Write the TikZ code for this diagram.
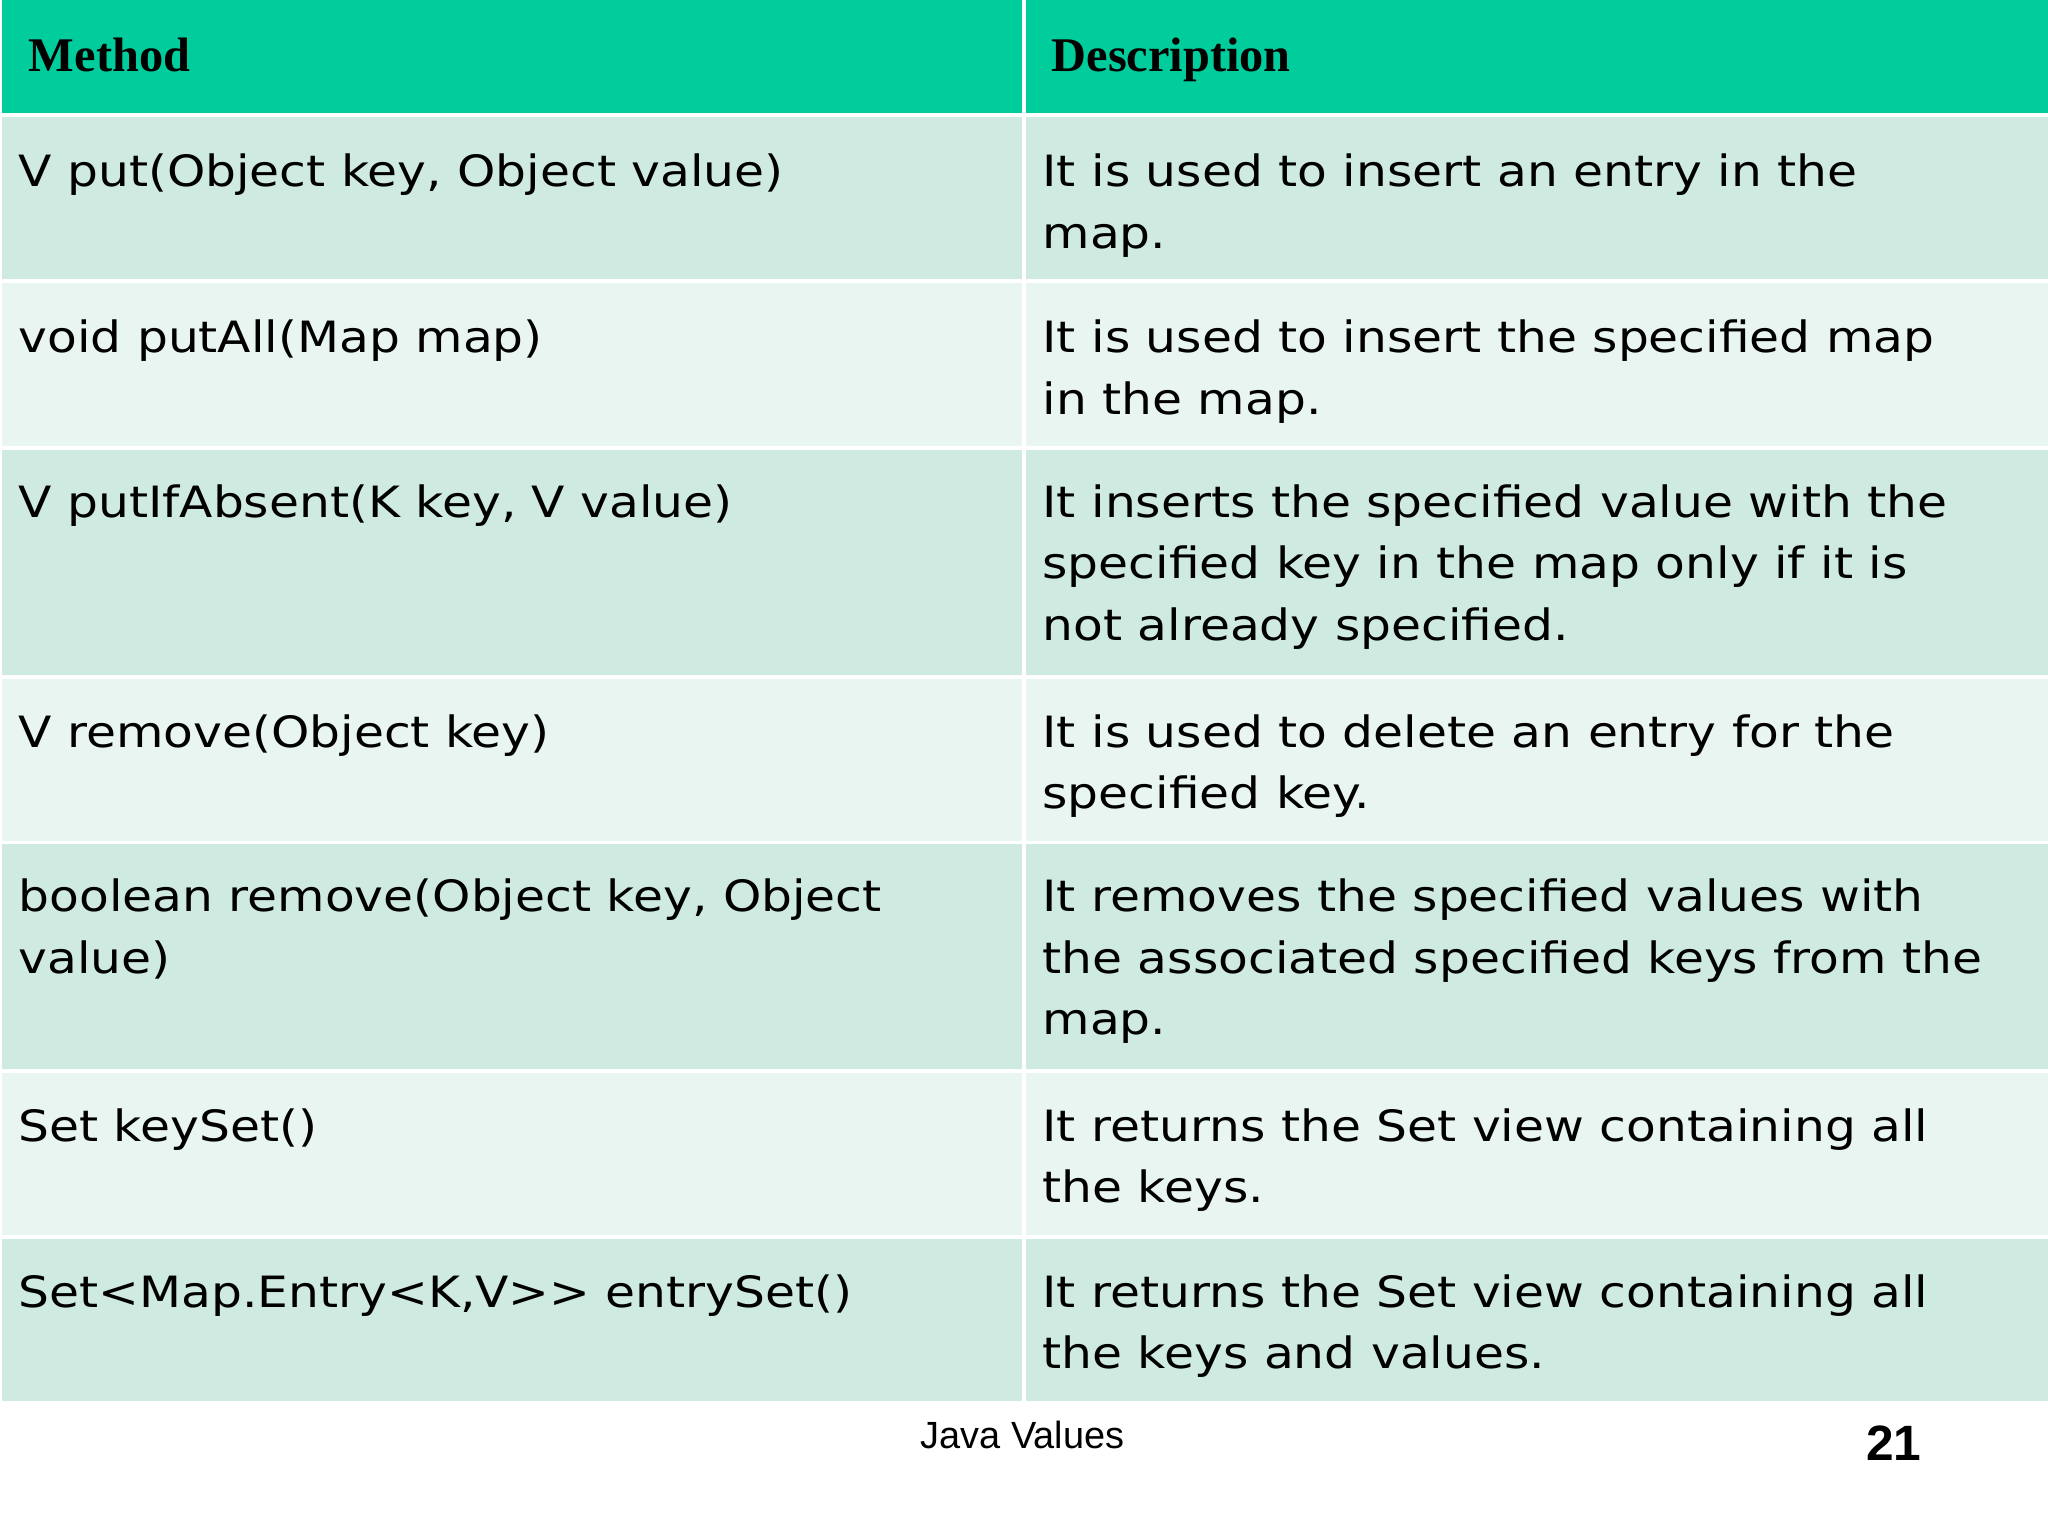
\documentclass[tikz,border=0pt]{standalone}
\usepackage{fontspec}
\setmainfont{DejaVu Sans}[FakeStretch=1.13]
\newfontfamily\hdfont{Liberation Serif}
\newfontfamily\ftfont{Liberation Sans}
\begin{document}
\begin{tikzpicture}[x=1pt,y=-1pt,
  cell/.style={anchor=base west,inner sep=0pt,align=left,font=\fontsize{33}{47}\selectfont},
  hd/.style={anchor=base west,inner sep=0pt,font=\hdfont\bfseries\fontsize{37}{40}\selectfont},
  sep/.style={white,line width=3pt}]
\useasboundingbox (0,0) rectangle (1568,1176);
\fill[white] (0,0) rectangle (1568,1176);
\definecolor{hdr}{HTML}{00CC9C}
\definecolor{rowa}{HTML}{CFEAE0}
\definecolor{rowb}{HTML}{E8F5F0}
\fill[hdr] (0,0) rectangle (1568,88);
\fill[rowa] (0,88) rectangle (1568,215);
\fill[rowb] (0,215) rectangle (1568,343);
\fill[rowa] (0,343) rectangle (1568,518);
\fill[rowb] (0,518) rectangle (1568,645);
\fill[rowa] (0,645) rectangle (1568,820);
\fill[rowb] (0,820) rectangle (1568,947);
\fill[rowa] (0,947) rectangle (1568,1073);
\foreach \y in {88,215,343,518,645,820,947} \draw[sep] (0,\y) -- (1568,\y);
\draw[sep] (784,0) -- (784,1073);
\draw[sep] (0,0) -- (0,1073);
\node[hd] (h1) at (22,55) {Method};
\node[hd] (h2) at (805,55) {Description};
\node[cell] (m1) at (14,143) {V put(Object key, Object value)};
\node[cell] (d1) at (798,190) {It is used to insert an entry in the\\map.};
\node[cell] (m2) at (14,270) {void putAll(Map map)};
\node[cell] (d2) at (798,317) {It is used to insert the specified map\\in the map.};
\node[cell] (m3) at (14,396) {V putIfAbsent(K key, V value)};
\node[cell] (d3) at (798,490) {It inserts the specified value with the\\specified key in the map only if it is\\not already specified.};
\node[cell] (m4) at (14,572) {V remove(Object key)};
\node[cell] (d4) at (798,619) {It is used to delete an entry for the\\specified key.};
\node[cell] (m5) at (14,745) {boolean remove(Object key, Object\\value)};
\node[cell] (d5) at (798,792) {It removes the specified values with\\the associated specified keys from the\\map.};
\node[cell] (m6) at (14,874) {Set keySet()};
\node[cell] (d6) at (798,921) {It returns the Set view containing all\\the keys.};
\node[cell] (m7) at (14,1001) {Set<Map.Entry<K,V>{}> entrySet()};
\node[cell] (d7) at (798,1048) {It returns the Set view containing all\\the keys and values.};
\node[anchor=base,inner sep=0pt,font=\ftfont\fontsize{29}{32}\selectfont] (f1) at (783,1109) {Java Values};
\node[anchor=base,inner sep=0pt,font=\ftfont\bfseries\fontsize{38}{40}\selectfont] (f2) at (1450,1118) {21};
\end{tikzpicture}
\end{document}
